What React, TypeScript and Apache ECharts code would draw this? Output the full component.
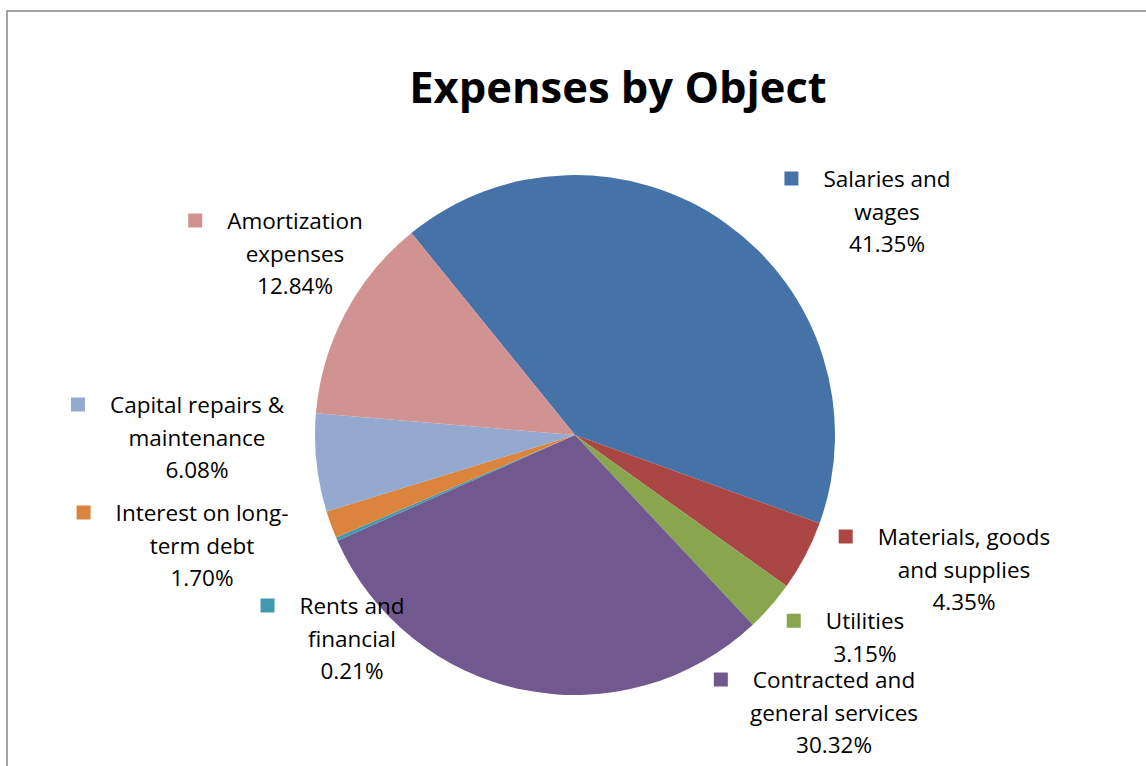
import React, { useEffect, useRef } from "react";
import * as echarts from "echarts";

const categories = [
  "Salaries and\nwages",
  "Materials, goods\nand supplies",
  "Utilities",
  "Contracted and\ngeneral services",
  "Rents and\nfinancial",
  "Interest on long-\nterm debt",
  "Capital repairs &\nmaintenance",
  "Amortization\nexpenses",
];
const shares = [41.35, 4.35, 3.15, 30.32, 0.21, 1.7, 6.08, 12.84];
const colors = ["#4572A7", "#AA4643", "#89A54E", "#71588F", "#4198AF", "#DB843D", "#93A9CF", "#D19392"];
const labelPos: [number, number][] = [
  [887, 211],
  [964, 569],
  [865, 637],
  [834, 712],
  [352, 638],
  [202, 545],
  [197, 437],
  [295, 253],
];

const FONT = "'Open Sans', Lato, sans-serif";

export default function App() {
  const ref = useRef<HTMLDivElement>(null);
  useEffect(() => {
    if (!ref.current) return;
    const chart = echarts.init(ref.current, undefined, { renderer: "svg" });
    const rich: any = {
      t: { fontSize: 22.5, fontFamily: FONT, color: "#000", lineHeight: 32.5, align: "center" },
      g: { width: 25, height: 14, align: "center" },
      pad: { width: 39, height: 14, align: "center" },
    };
    colors.forEach((c, i) => {
      rich["sq" + i] = { width: 14, height: 14, backgroundColor: c, align: "center" };
    });
    chart.setOption({
      animation: false,
      backgroundColor: "#ffffff",
      title: {
        text: "Expenses by Object",
        left: 613,
        top: 59,
        textAlign: "center",
        textStyle: { fontSize: 43.5, fontWeight: "bold", fontFamily: FONT, color: "#000" },
      },
      graphic: [
        {
          type: "rect",
          shape: { x: 7, y: 11, width: 1300, height: 900 },
          style: { fill: "none", stroke: "#868686", lineWidth: 1.5 },
          silent: true,
        },
      ],
      series: [
        {
          type: "pie",
          center: [575, 435],
          radius: 260,
          startAngle: 129,
          clockwise: true,
          avoidLabelOverlap: false,
          itemStyle: { borderWidth: 0 },
          label: {
            show: true,
            position: "outside",
            align: "center",
            formatter: (p: any) => {
              const lines = String(p.name).split("\n");
              const first = `{sq${p.dataIndex}|}{g|}{t|${lines[0]}}{pad|}`;
              const rest = lines.slice(1).map((l) => `{t|${l}}`);
              return [first, ...rest, `{t|${Number(p.value).toFixed(2)}%}`].join("\n");
            },
            rich,
          },
          labelLine: { show: false },
          labelLayout: (params: any) => {
            const pos = labelPos[params.dataIndex];
            return { x: pos[0], y: pos[1], align: "center", verticalAlign: "middle" };
          },
          data: categories.map((name, i) => ({
            name,
            value: shares[i],
            itemStyle: { color: colors[i] },
          })),
        },
      ],
    });
    return () => chart.dispose();
  }, []);
  return (
    <div
      ref={ref}
      style={{ position: "fixed", left: 0, top: 0, width: 1146, height: 766, background: "#fff" }}
    />
  );
}
